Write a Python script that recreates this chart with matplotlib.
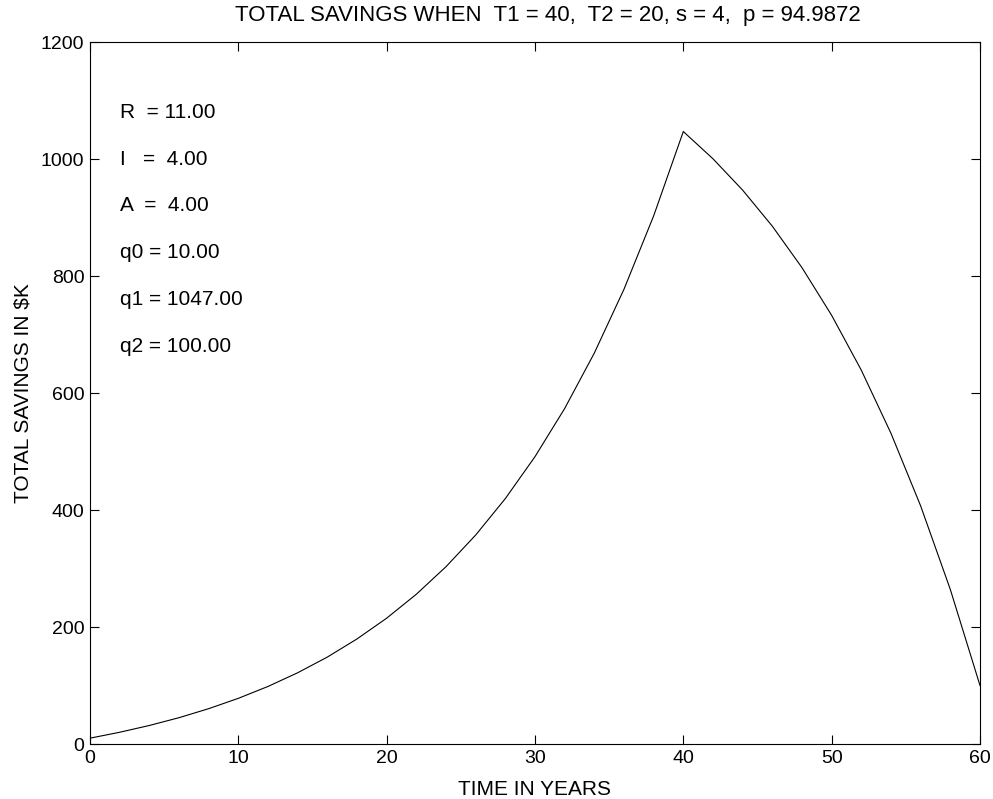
import matplotlib.pyplot as plt

plt.rcParams['font.family'] = ['Liberation Sans', 'DejaVu Sans']

# years and total savings ($K)
years = [0, 2, 4, 6, 8, 10, 12, 14, 16, 18, 20, 22, 24, 26, 28, 30,
         32, 34, 36, 38, 40, 42, 44, 46, 48, 50, 52, 54, 56, 58, 60]
savings = [10, 20.1, 31.7, 45.0, 60.4, 78.1, 98.4, 121.8, 148.6, 179.6,
           215.1, 256.0, 303.1, 357.2, 419.5, 491.2, 573.5, 668.3, 777.4,
           902.8, 1047.0, 1000.4, 946.8, 885.2, 814.3, 732.8, 639.0, 531.1,
           407.0, 264.2, 100.1]

params = ['R  = 11.00', 'I   =  4.00', 'A  =  4.00',
          'q0 = 10.00', 'q1 = 1047.00', 'q2 = 100.00']
param_y = [1080, 1000, 920, 840, 760, 680]

fig = plt.figure(figsize=(9.93, 7.99), dpi=100)
ax = fig.add_axes([0.0906, 0.0688, 0.8963, 0.8786])

ax.plot(years, savings, color='black', linewidth=0.8)

for txt, yy in zip(params, param_y):
    ax.text(2, yy, txt, fontsize=15, va='center', ha='left')

ax.set_xlim(0, 60)
ax.set_ylim(0, 1200)
ax.set_xticks(range(0, 61, 10))
ax.set_yticks(range(0, 1201, 200))
ax.tick_params(direction='in', top=True, right=True, length=6.5,
               labelsize=14, pad=4)

ax.set_title('TOTAL SAVINGS WHEN  T1 = 40,  T2 = 20, s = 4,  p = 94.9872',
             fontsize=16, pad=15, x=0.514)
ax.set_xlabel('TIME IN YEARS', fontsize=15, labelpad=10)
ax.set_ylabel(r'TOTAL SAVINGS IN \$K', fontsize=15, labelpad=6)

fig.savefig('out.png', dpi=100)
